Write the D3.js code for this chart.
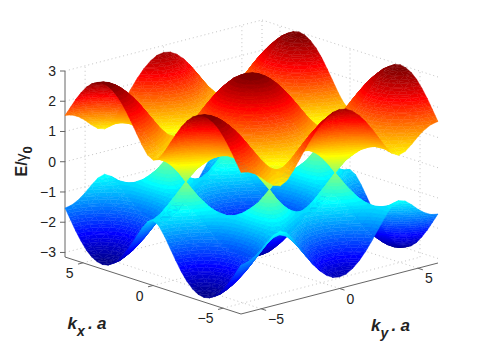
<!DOCTYPE html>
<html>
<head>
<meta charset="utf-8">
<style>
    body { margin: 0; background: #fff; }
    text { font-family: "Liberation Sans", Arial, sans-serif; fill: #222; }
    .tick { font-size: 14px; }
    .label { font-size: 17px; font-weight: bold; font-style: italic; }
    .axis { stroke: #666; stroke-width: 1; fill: none; }
    .grid { stroke: #c4c4c4; stroke-width: 1; stroke-dasharray: 1 3; fill: none; }
</style>
</head>
<body>
<svg width="482" height="363"></svg>
<script src="https://cdnjs.cloudflare.com/ajax/libs/d3/7.8.5/d3.min.js"></script>
<script>
const svg = d3.select('svg')

// k values of one quadrant, other three are mirrored
const kxValues = [0, 0.403, 0.806, 1.209, 1.612, 2.015, 2.418, 2.821, 3.224, 3.628, 4.007, 4.386, 4.766, 5.145, 5.524, 5.904, 6.283]
const kyValues = [0, 0.419, 0.838, 1.257, 1.676, 2.094, 2.513, 2.932, 3.351, 3.77, 4.189, 4.608, 5.027, 5.445, 5.864, 6.283]
const kTicks = [-5, 0, 5]
const zTicks = [-3, -2, -1, 0, 1, 2, 3]

// E/gamma0 of the upper band, rows = kx, columns = ky
const upperBand = [
    [3.00, 2.96, 2.83, 2.62, 2.34, 2.00, 1.62, 1.21, 0.79, 0.38, 0.00, 0.34, 0.62, 0.83, 0.96, 1.00],
    [2.96, 2.92, 2.79, 2.58, 2.30, 1.97, 1.59, 1.20, 0.81, 0.47, 0.35, 0.53, 0.76, 0.95, 1.07, 1.11],
    [2.84, 2.80, 2.67, 2.47, 2.20, 1.88, 1.53, 1.17, 0.85, 0.66, 0.68, 0.86, 1.07, 1.24, 1.35, 1.39],
    [2.65, 2.60, 2.48, 2.29, 2.03, 1.73, 1.41, 1.12, 0.91, 0.87, 1.00, 1.21, 1.41, 1.58, 1.69, 1.73],
    [2.39, 2.35, 2.23, 2.04, 1.80, 1.53, 1.26, 1.06, 0.99, 1.08, 1.29, 1.53, 1.75, 1.92, 2.04, 2.07],
    [2.07, 2.04, 1.92, 1.75, 1.53, 1.29, 1.08, 0.99, 1.06, 1.26, 1.53, 1.80, 2.04, 2.23, 2.35, 2.39],
    [1.73, 1.69, 1.58, 1.41, 1.21, 1.00, 0.87, 0.91, 1.12, 1.41, 1.73, 2.03, 2.29, 2.48, 2.60, 2.65],
    [1.39, 1.35, 1.24, 1.07, 0.86, 0.68, 0.66, 0.85, 1.17, 1.53, 1.88, 2.20, 2.47, 2.67, 2.80, 2.84],
    [1.11, 1.07, 0.95, 0.76, 0.53, 0.35, 0.47, 0.81, 1.20, 1.59, 1.97, 2.30, 2.58, 2.79, 2.92, 2.96],
    [1.00, 0.96, 0.83, 0.62, 0.34, 0.00, 0.38, 0.79, 1.21, 1.62, 2.00, 2.34, 2.62, 2.83, 2.96, 3.00],
    [1.10, 1.06, 0.94, 0.75, 0.51, 0.33, 0.46, 0.80, 1.20, 1.60, 1.97, 2.31, 2.58, 2.79, 2.92, 2.96],
    [1.35, 1.31, 1.20, 1.03, 0.82, 0.65, 0.64, 0.84, 1.17, 1.54, 1.89, 2.22, 2.49, 2.69, 2.82, 2.86],
    [1.67, 1.63, 1.52, 1.35, 1.15, 0.95, 0.84, 0.90, 1.13, 1.44, 1.76, 2.07, 2.32, 2.52, 2.64, 2.69],
    [2.00, 1.96, 1.85, 1.67, 1.45, 1.22, 1.03, 0.97, 1.07, 1.30, 1.58, 1.86, 2.11, 2.29, 2.41, 2.45],
    [2.30, 2.26, 2.14, 1.96, 1.73, 1.46, 1.21, 1.04, 1.01, 1.14, 1.36, 1.61, 1.84, 2.02, 2.13, 2.17],
    [2.56, 2.52, 2.40, 2.21, 1.96, 1.67, 1.37, 1.10, 0.94, 0.95, 1.10, 1.32, 1.54, 1.71, 1.82, 1.85],
    [2.77, 2.73, 2.60, 2.40, 2.14, 1.83, 1.49, 1.15, 0.87, 0.75, 0.82, 1.00, 1.21, 1.38, 1.49, 1.53]
]

const kLim = 6.283
const zLim = [-3.15, 3]

const kxX = d3.scaleLinear().domain([-kLim, kLim]).range([88, -88])
const kxY = d3.scaleLinear().domain([-kLim, kLim]).range([28.5, -28.5])
const kyX = d3.scaleLinear().domain([-kLim, kLim]).range([-98.5, 98.5])
const kyY = d3.scaleLinear().domain([-kLim, kLim]).range([25.5, -25.5])
const zY = d3.scaleLinear().domain(zLim).range([0, -186])

const px = (a, b) => 251.5 + kxX(a) + kyX(b)
const py = (a, b, z) => 260 + kxY(a) + kyY(b) + zY(z)

// jet(64) like matlab
const jet = d3.scaleLinear()
    .domain([1, 8, 24, 40, 56, 64])
    .range(['rgb(0,0,143)', 'rgb(0,0,255)', 'rgb(0,255,255)', 'rgb(255,255,0)', 'rgb(255,0,0)', 'rgb(128,0,0)'])
const levels = 64
const levelOf = e => Math.max(0, Math.min(levels - 1, Math.floor((e + 3) / 6 * levels)))
const levelEdge = n => -3 + n * 6 / levels

const mirror = arr => arr.slice(1).reverse().map(v => -v).concat(arr)
const kxAll = mirror(kxValues)
const kyAll = mirror(kyValues)
const mirrorRow = row => row.slice(1).reverse().concat(row)
const grid = upperBand.slice(1).reverse().concat(upperBand).map(mirrorRow)

const gridG = svg.append('g')
const line3 = (g, p, q, cls) => g.append('line')
    .attr('class', cls)
    .attr('x1', px(p[0], p[1])).attr('y1', py(p[0], p[1], p[2]))
    .attr('x2', px(q[0], q[1])).attr('y2', py(q[0], q[1], q[2]))

kTicks.forEach(t => {
    line3(gridG, [t, -kLim, zLim[0]], [t, kLim, zLim[0]], 'grid')
    line3(gridG, [-kLim, t, zLim[0]], [kLim, t, zLim[0]], 'grid')
    line3(gridG, [kLim, t, zLim[0]], [kLim, t, zLim[1]], 'grid')
    line3(gridG, [t, kLim, zLim[0]], [t, kLim, zLim[1]], 'grid')
})
zTicks.forEach(t => {
    line3(gridG, [kLim, -kLim, t], [kLim, kLim, t], 'grid')
    line3(gridG, [kLim, kLim, t], [-kLim, kLim, t], 'grid')
})
line3(gridG, [kLim, kLim, zLim[0]], [kLim, kLim, zLim[1]], 'grid')

// axes
const axisG = svg.append('g')
line3(axisG, [kLim, -kLim, zLim[0]], [kLim, -kLim, zLim[1]], 'axis')
line3(axisG, [kLim, -kLim, zLim[0]], [-kLim, -kLim, zLim[0]], 'axis')
line3(axisG, [-kLim, -kLim, zLim[0]], [-kLim, kLim, zLim[0]], 'axis')

zTicks.forEach(t => {
    const x = px(kLim, -kLim)
    const y = py(kLim, -kLim, t)
    axisG.append('line').attr('class', 'axis')
        .attr('x1', x).attr('y1', y).attr('x2', x - 5).attr('y2', y)
    axisG.append('text').attr('class', 'tick')
        .attr('x', x - 9).attr('y', y + 5).attr('text-anchor', 'end')
        .text(d3.format('d')(t).replace('-', '\u2212'))
})
kTicks.forEach(t => {
    const label = d3.format('d')(t).replace('-', '\u2212')
    let x = px(t, -kLim)
    let y = py(t, -kLim, zLim[0])
    axisG.append('line').attr('class', 'axis')
        .attr('x1', x).attr('y1', y).attr('x2', x - 5).attr('y2', y + 1.3)
    axisG.append('text').attr('class', 'tick')
        .attr('x', x - 9.5).attr('y', y + 15).attr('text-anchor', 'end').text(label)
    x = px(-kLim, t)
    y = py(-kLim, t, zLim[0])
    axisG.append('line').attr('class', 'axis')
        .attr('x1', x).attr('y1', y).attr('x2', x + 5).attr('y2', y + 1.6)
    axisG.append('text').attr('class', 'tick')
        .attr('x', x + 7).attr('y', y + 15).attr('text-anchor', 'start').text(label)
})

// keep the part of a polygon on one side of e = v
const clip = (poly, v, above) => {
    const out = []
    poly.forEach((p, i) => {
        const q = poly[(i + 1) % poly.length]
        const pIn = above ? p[2] >= v : p[2] <= v
        const qIn = above ? q[2] >= v : q[2] <= v
        if (pIn) out.push(p)
        if (pIn !== qIn) {
            const t = (v - p[2]) / (q[2] - p[2])
            out.push([p[0] + t * (q[0] - p[0]), p[1] + t * (q[1] - p[1]), v])
        }
    })
    return out
}

const drawTriangle = (g, tri) => {
    const es = tri.map(p => p[2])
    const lo = levelOf(d3.min(es))
    const hi = levelOf(d3.max(es))
    for (let n = lo; n <= hi; n++) {
        let poly = tri
        if (n > lo) poly = clip(poly, levelEdge(n), true)
        if (n < hi) poly = clip(poly, levelEdge(n + 1), false)
        if (poly.length < 3) continue
        const color = jet(n + 1)
        g.append('path')
            .attr('d', 'M' + poly.map(p => px(p[0], p[1]).toFixed(2) + ',' + py(p[0], p[1], p[2]).toFixed(2)).join('L') + 'Z')
            .attr('fill', color)
            .attr('stroke', color)
            .attr('stroke-width', 0.4)
            .attr('stroke-linejoin', 'round')
    }
}

// back to front: far corner is +kx, +ky
const drawSurface = sign => {
    const g = svg.append('g')
    const pt = (i, j) => [kxAll[i], kyAll[j], sign * grid[i][j]]
    for (let i = kxAll.length - 2; i >= 0; i--) {
        for (let j = kyAll.length - 2; j >= 0; j--) {
            drawTriangle(g, [pt(i + 1, j + 1), pt(i + 1, j), pt(i, j + 1)])
            drawTriangle(g, [pt(i, j), pt(i + 1, j), pt(i, j + 1)])
        }
    }
}

drawSurface(-1)
drawSurface(1)

// labels
const zLabel = svg.append('text')
    .attr('transform', 'translate(27,176.5) rotate(-90)')
    .attr('font-size', 16).attr('font-weight', 'bold')
zLabel.append('tspan').text('E/')
zLabel.append('tspan').attr('font-weight', 'normal').text('\u03b3')
zLabel.append('tspan').attr('dy', 5).attr('font-size', 13).text('0')

const kLabel = (x, y, sub, dotX, aX) => {
    const t = svg.append('text').attr('class', 'label').attr('x', x).attr('y', y)
    t.append('tspan').text('k')
    t.append('tspan').attr('dy', 6.5).attr('font-size', 14).text(sub)
    t.append('tspan').attr('x', dotX).attr('dy', -6.5).text('.')
    t.append('tspan').attr('x', aX).text('a')
}
kLabel(67.5, 329, 'x', 88, 97)
kLabel(371, 331, 'y', 391.5, 400.5)
</script>
</body>
</html>
